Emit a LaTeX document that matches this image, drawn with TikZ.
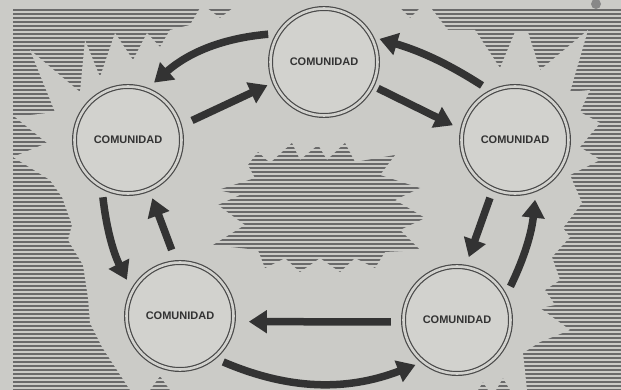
\documentclass[tikz,border=0pt]{standalone}
\usepackage{fontspec}
\setsansfont{Liberation Sans}
\usetikzlibrary{arrows.meta}
\definecolor{bgc}{HTML}{CBCBC7}
\definecolor{ringfill}{HTML}{D2D2CE}
\definecolor{hatchc}{HTML}{6A6A6A}
\definecolor{ringc}{HTML}{4A4A4A}
\definecolor{arrc}{HTML}{333333}
\definecolor{textc}{HTML}{333333}
\tikzset{
  hatchline/.style={draw=hatchc, line width=2.1pt},
  comm/.style={circle, minimum size=107pt, inner sep=0pt, draw=ringc, line width=1.2pt,
    double=ringfill, double distance=2.6pt, fill=ringfill,
    font=\sffamily\bfseries\fontsize{11}{13}\selectfont, text=textc},
  flow/.style={draw=arrc, line width=7.5pt, -{Triangle[width=22pt,length=18pt]}},
}
\begin{document}
\begin{tikzpicture}[x=1pt,y=-1pt]
\useasboundingbox (0,0) rectangle (621,390);
\fill[bgc] (0,0) rectangle (621,390);
% hatched frame
\begin{scope}
  \clip (13,8) rectangle (621,390);
  \foreach \y in {10,14,...,390} \draw[hatchline] (13,\y) -- (621,\y);
\end{scope}
% light burst
\fill[bgc] (200,8) -- (207,8) -- (220,18) -- (233,8) -- (400,8) -- (410,18) -- (420,8) -- (431,8)
  -- (448,30) -- (475,30) -- (500,68) -- (515,32) -- (528,32) -- (540,70) -- (588,30) -- (570,92)
  -- (590,90) -- (580,112) -- (600,123) -- (580,147) -- (600,160) -- (570,175) -- (582,203)
  -- (563,228) -- (570,237) -- (552,257) -- (560,280) -- (545,290) -- (555,305) -- (540,308)
  -- (570,330) -- (540,342) -- (523,353) -- (527,390) -- (510,390) -- (503,378) -- (496,390)
  -- (488,390) -- (483,382) -- (478,390) -- (170,390) -- (160,376) -- (150,390) -- (130,390)
  -- (102,347) -- (90,323) -- (88,298) -- (83,265) -- (68,240) -- (72,225) -- (62,197)
  -- (50,180) -- (13,157) -- (47,143) -- (15,117) -- (55,112) -- (30,50) -- (80,92) -- (85,40)
  -- (100,77) -- (115,33) -- (133,60) -- (147,33) -- (160,47) -- (170,30) -- (190,25) -- cycle;
% central hatched burst
\begin{scope}
  \clip (258,152) -- (270,163) -- (292,143) -- (300,160) -- (318,145) -- (327,160) -- (345,143)
    -- (355,162) -- (395,155) -- (380,175) -- (420,188) -- (395,200) -- (425,218) -- (400,230)
    -- (420,250) -- (385,252) -- (375,268) -- (355,258) -- (340,272) -- (320,258) -- (300,272)
    -- (285,258) -- (265,268) -- (258,250) -- (213,245) -- (245,225) -- (218,205) -- (240,195)
    -- (218,190) -- (255,178) -- (248,165) -- cycle;
  \foreach \y in {144,148,...,272} \draw[hatchline] (210,\y) -- (430,\y);
\end{scope}
\fill[hatchc!80] (596,4) circle (5);
% communities
\node[comm] (T)  at (324,62)  {COMUNIDAD};
\node[comm] (L)  at (128,140) {COMUNIDAD};
\node[comm] (R)  at (515,140) {COMUNIDAD};
\node[comm] (BL) at (180,316) {COMUNIDAD};
\node[comm] (BR) at (457,320) {COMUNIDAD};
% flows
\draw[flow, shorten <=10pt, shorten >=10pt] (T.148) to[bend right=18] (L.70);
\draw[flow, shorten <=13pt, shorten >=7pt] (L.15) -- (T.202);
\draw[flow, shorten <=6pt, shorten >=10pt] (T.-26) -- (R.169);
\draw[flow, shorten <=11pt, shorten >=8pt] (R.116) to[bend right=8] (T.28);
\draw[flow, shorten <=9pt, shorten >=10pt] (R.246) -- (BR.81);
\draw[flow, shorten <=11pt, shorten >=10pt] (BR.26) to[bend right=10] (R.-67);
\draw[flow, shorten <=12pt, shorten >=15pt] (BR.182) -- (BL.-6);
\draw[flow, shorten <=10pt, shorten >=8pt] (BL.-51) to[bend right=22] (BR.231);
\draw[flow, shorten <=10pt, shorten >=12pt] (L.241) to[bend right=10] (BL.152);
\draw[flow, shorten <=13pt, shorten >=9pt] (BL.94) -- (L.-67);
\end{tikzpicture}
\end{document}
